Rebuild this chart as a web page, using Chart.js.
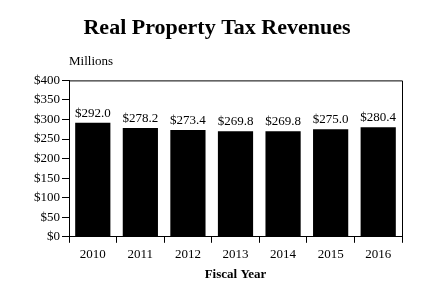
<!DOCTYPE html>
<html><head><meta charset="utf-8">
<script src="https://cdn.jsdelivr.net/npm/chart.js@4/dist/chart.umd.min.js"></script>
<style>html,body{margin:0;padding:0;background:#fff}#wrap{width:421px;height:286px}</style>
</head><body><div id="wrap"><canvas id="c" width="421" height="286"></canvas></div>
<script>
const categories = ['2010','2011','2012','2013','2014','2015','2016'];
const revenues = [292.0, 278.2, 273.4, 269.8, 269.8, 275.0, 280.4];
const valueLabels = ['$292.0','$278.2','$273.4','$269.8','$269.8','$275.0','$280.4'];
const yTicks = [0,50,100,150,200,250,300,350,400];

const SERIF = '"Liberation Serif", "DejaVu Serif", serif';

const extras = {
  id: 'extras',
  afterDatasetsDraw(chart) {
    const ctx = chart.ctx, a = chart.chartArea;
    ctx.save();
    ctx.strokeStyle = '#000'; ctx.lineWidth = 1;
    ctx.beginPath();
    ctx.moveTo(a.left, a.top + 0.5); ctx.lineTo(a.right + 0.5, a.top + 0.5); ctx.lineTo(a.right + 0.5, a.bottom);
    ctx.stroke();
    ctx.fillStyle = '#000';
    ctx.font = '13px ' + SERIF;
    ctx.textAlign = 'center'; ctx.textBaseline = 'bottom';
    const meta = chart.getDatasetMeta(0);
    meta.data.forEach((bar, i) => {
      ctx.fillText(valueLabels[i], bar.x, bar.y - 3);
    });
    ctx.font = '13px ' + SERIF;
    ctx.textAlign = 'left'; ctx.textBaseline = 'bottom';
    ctx.fillText('Millions', a.left, a.top - 12);
    ctx.restore();
  }
};

new Chart(document.getElementById('c'), {
  type: 'bar',
  data: { labels: categories, datasets: [{ data: revenues, backgroundColor: '#000', borderWidth: 0, barPercentage: 0.74, categoryPercentage: 1.0 }] },
  options: {
    responsive: false, animation: false,
    layout: { padding: { left: 32, right: 19, top: 0, bottom: 4 } },
    plugins: {
      legend: { display: false }, tooltip: { enabled: false },
      title: { display: true, text: 'Real Property Tax Revenues', color: '#000',
        font: { family: SERIF, size: 22, weight: 'bold' }, padding: { top: 15, bottom: 39 } }
    },
    scales: {
      x: {
        grid: { display: true, offset: true, drawOnChartArea: false, drawTicks: true, tickLength: 6, color: '#000' },
        border: { display: true, color: '#000', width: 1 },
        ticks: { color: '#000', font: { family: SERIF, size: 13 }, padding: 4, maxRotation: 0 },
        title: { display: true, text: 'Fiscal Year', color: '#000', font: { family: SERIF, size: 13, weight: 'bold' }, padding: { top: 0, bottom: 0 } }
      },
      y: {
        min: 0, max: 400,
        afterBuildTicks: (s) => { s.ticks = yTicks.map(v => ({ value: v })); },
        grid: { display: true, drawOnChartArea: false, drawTicks: true, tickLength: 7, color: '#000' },
        border: { display: true, color: '#000', width: 1 },
        ticks: { color: '#000', font: { family: SERIF, size: 13 }, padding: 2, callback: (v) => '$' + v }
      }
    }
  },
  plugins: [extras]
});
</script></body></html>
